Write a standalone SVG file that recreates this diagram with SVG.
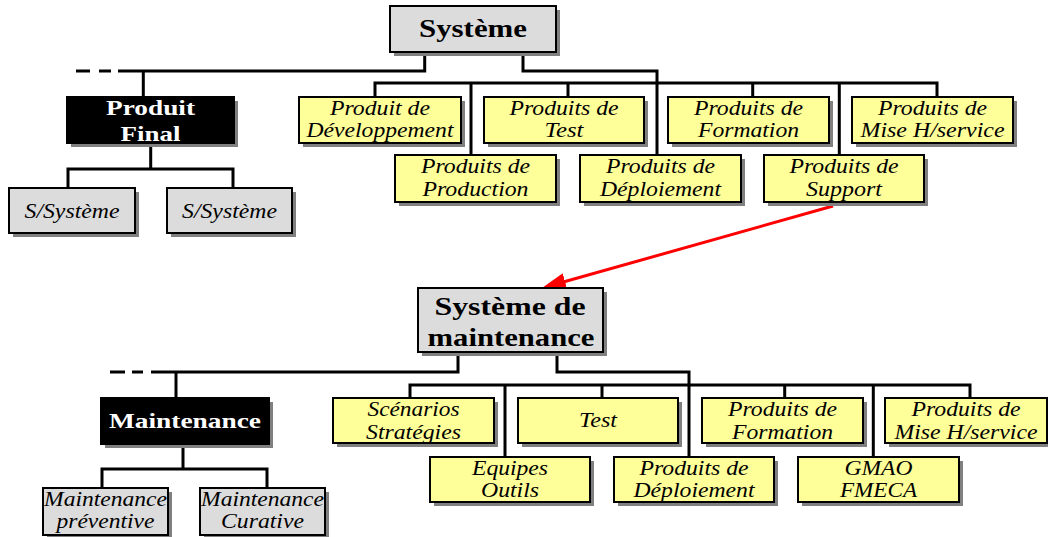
<svg xmlns="http://www.w3.org/2000/svg" width="1048" height="537" viewBox="0 0 1048 537">
  <style>
    .shadow { fill: #808080; }
    .box { stroke: #000; stroke-width: 2; }
    .yellow { fill: #ffff99; }
    .grey { fill: #dcdcdc; }
    .black { fill: #000; }
    .lbl { font-family: 'Liberation Serif', 'Times New Roman', serif; font-style: italic; font-size: 20px; fill: #000; text-anchor: middle; }
    .big { font-size: 21px; }
    .head { font-family: 'Liberation Serif', 'Times New Roman', serif; font-weight: bold; font-size: 25px; fill: #000; text-anchor: middle; }
    .inv { font-family: 'Liberation Serif', 'Times New Roman', serif; font-weight: bold; font-size: 22px; fill: #fff; text-anchor: middle; }
    .conn { fill: none; stroke: #000; stroke-width: 3; stroke-linejoin: miter; }
    .link { stroke: #ff0000; stroke-width: 3; fill: none; }
  </style>
  <defs>
    <marker id="redHead" markerUnits="userSpaceOnUse" markerWidth="24" markerHeight="17" refX="12" refY="8.5" orient="auto">
      <path d="M0,0 L24,8.5 L0,17 z" fill="#ff0000"/>
    </marker>
  </defs>

  <rect width="1048" height="537" fill="#fff"/>

  <!-- tree connectors -->
  <g id="connectors">
    <!-- upper tree -->
    <path class="conn" d="M424.7,52 V71 H118"/>
    <path class="conn" d="M76,71 H90 M99,71 H111"/>
    <path class="conn" d="M143.3,71 V97"/>
    <path class="conn" d="M150.7,143 V169 M68,188 V169 H233 V188"/>
    <path class="conn" d="M375,97 V83 H937 V97 M568,83 V97 M752.7,83 V97 M471,83 V155 M839.3,83 V155"/>
    <path class="conn" d="M523,52 V71 H657 V155"/>
    <!-- lower tree -->
    <path class="conn" d="M458,352 V372 H151"/>
    <path class="conn" d="M110,372 H125 M132,372 H143"/>
    <path class="conn" d="M176,372 V398"/>
    <path class="conn" d="M183,444 V469 M102,488 V469 H267 V488"/>
    <path class="conn" d="M410,398 V385 H970 V398 M602,385 V398 M784.7,385 V398 M505,385 V457 M873.3,385 V457"/>
    <path class="conn" d="M557,352 V372 H689 V457"/>
    <!-- link from support products to the maintenance system -->
    <line class="link" x1="833" y1="206" x2="553.5" y2="284.8" marker-end="url(#redHead)"/>
  </g>

  <!-- upper tree nodes -->
  <g id="systeme">
    <rect class="shadow" x="394" y="10" width="166" height="46"/>
    <rect class="box grey" x="390" y="6" width="166" height="46"/>
    <text class="head" x="473" y="37" textLength="108" lengthAdjust="spacingAndGlyphs">Système</text>
  </g>
  <g id="produit-final">
    <rect class="shadow" x="71" y="101" width="167" height="46"/>
    <rect class="box black" x="67" y="97" width="167" height="46"/>
    <text class="inv" x="150.5" y="115" textLength="89" lengthAdjust="spacingAndGlyphs">Produit</text>
    <text class="inv" x="150.5" y="141" textLength="60" lengthAdjust="spacingAndGlyphs">Final</text>
  </g>
  <g id="s-systeme-1">
    <rect class="shadow" x="13" y="192" width="126" height="45"/>
    <rect class="box grey" x="9" y="188" width="126" height="45"/>
    <text class="lbl big" x="72" y="218" textLength="95" lengthAdjust="spacingAndGlyphs">S/Système</text>
  </g>
  <g id="s-systeme-2">
    <rect class="shadow" x="171" y="192" width="125" height="45"/>
    <rect class="box grey" x="167" y="188" width="125" height="45"/>
    <text class="lbl big" x="229.5" y="218" textLength="95" lengthAdjust="spacingAndGlyphs">S/Système</text>
  </g>
  <g id="produit-developpement">
    <rect class="shadow" x="303" y="101" width="162" height="46"/>
    <rect class="box yellow" x="299" y="97" width="162" height="46"/>
    <text class="lbl" x="380" y="115" textLength="100" lengthAdjust="spacingAndGlyphs">Produit de</text>
    <text class="lbl" x="380" y="137" textLength="147" lengthAdjust="spacingAndGlyphs">Développement</text>
  </g>
  <g id="produits-test">
    <rect class="shadow" x="488" y="101" width="160" height="46"/>
    <rect class="box yellow" x="484" y="97" width="160" height="46"/>
    <text class="lbl" x="564" y="115" textLength="109" lengthAdjust="spacingAndGlyphs">Produits de</text>
    <text class="lbl" x="564" y="137" textLength="39" lengthAdjust="spacingAndGlyphs">Test</text>
  </g>
  <g id="produits-formation">
    <rect class="shadow" x="672" y="101" width="161" height="46"/>
    <rect class="box yellow" x="668" y="97" width="161" height="46"/>
    <text class="lbl" x="748.5" y="115" textLength="109" lengthAdjust="spacingAndGlyphs">Produits de</text>
    <text class="lbl" x="748.5" y="137" textLength="101" lengthAdjust="spacingAndGlyphs">Formation</text>
  </g>
  <g id="produits-mise-service">
    <rect class="shadow" x="856" y="101" width="161" height="46"/>
    <rect class="box yellow" x="852" y="97" width="161" height="46"/>
    <text class="lbl" x="932.5" y="115" textLength="109" lengthAdjust="spacingAndGlyphs">Produits de</text>
    <text class="lbl" x="932.5" y="137" textLength="144" lengthAdjust="spacingAndGlyphs">Mise H/service</text>
  </g>
  <g id="produits-production">
    <rect class="shadow" x="399" y="159" width="161" height="47"/>
    <rect class="box yellow" x="395" y="155" width="161" height="47"/>
    <text class="lbl" x="475.5" y="173" textLength="109" lengthAdjust="spacingAndGlyphs">Produits de</text>
    <text class="lbl" x="475.5" y="196" textLength="106" lengthAdjust="spacingAndGlyphs">Production</text>
  </g>
  <g id="produits-deploiement">
    <rect class="shadow" x="584" y="159" width="161" height="47"/>
    <rect class="box yellow" x="580" y="155" width="161" height="47"/>
    <text class="lbl" x="660.5" y="173" textLength="109" lengthAdjust="spacingAndGlyphs">Produits de</text>
    <text class="lbl" x="660.5" y="196" textLength="121" lengthAdjust="spacingAndGlyphs">Déploiement</text>
  </g>
  <g id="produits-support">
    <rect class="shadow" x="768" y="159" width="160" height="47"/>
    <rect class="box yellow" x="764" y="155" width="160" height="47"/>
    <text class="lbl" x="844" y="173" textLength="109" lengthAdjust="spacingAndGlyphs">Produits de</text>
    <text class="lbl" x="844" y="196" textLength="76" lengthAdjust="spacingAndGlyphs">Support</text>
  </g>

  <!-- lower tree nodes -->
  <g id="systeme-maintenance">
    <rect class="shadow" x="422" y="292" width="185" height="64"/>
    <rect class="box grey" x="418" y="288" width="185" height="64"/>
    <text class="head" x="510" y="315" textLength="151" lengthAdjust="spacingAndGlyphs">Système de</text>
    <text class="head" x="511" y="346" textLength="167" lengthAdjust="spacingAndGlyphs">maintenance</text>
  </g>
  <g id="maintenance">
    <rect class="shadow" x="105" y="402" width="168" height="46"/>
    <rect class="box black" x="101" y="398" width="168" height="46"/>
    <text class="inv" x="185" y="428" textLength="152" lengthAdjust="spacingAndGlyphs">Maintenance</text>
  </g>
  <g id="maintenance-preventive">
    <rect class="shadow" x="47" y="492" width="125" height="47"/>
    <rect class="box grey" x="43" y="488" width="125" height="47"/>
    <text class="lbl" x="105.5" y="506" textLength="123" lengthAdjust="spacingAndGlyphs">Maintenance</text>
    <text class="lbl" x="105.5" y="528" textLength="98" lengthAdjust="spacingAndGlyphs">préventive</text>
  </g>
  <g id="maintenance-curative">
    <rect class="shadow" x="204" y="492" width="125" height="47"/>
    <rect class="box grey" x="200" y="488" width="125" height="47"/>
    <text class="lbl" x="262.5" y="506" textLength="123" lengthAdjust="spacingAndGlyphs">Maintenance</text>
    <text class="lbl" x="262.5" y="528" textLength="83" lengthAdjust="spacingAndGlyphs">Curative</text>
  </g>
  <g id="scenarios-strategies">
    <rect class="shadow" x="337" y="402" width="161" height="45"/>
    <rect class="box yellow" x="333" y="398" width="161" height="45"/>
    <text class="lbl" x="413.5" y="416" textLength="92" lengthAdjust="spacingAndGlyphs">Scénarios</text>
    <text class="lbl" x="413.5" y="439" textLength="95" lengthAdjust="spacingAndGlyphs">Stratégies</text>
  </g>
  <g id="test">
    <rect class="shadow" x="522" y="402" width="160" height="45"/>
    <rect class="box yellow" x="518" y="398" width="160" height="45"/>
    <text class="lbl" x="598" y="427" textLength="38" lengthAdjust="spacingAndGlyphs">Test</text>
  </g>
  <g id="produits-formation-maint">
    <rect class="shadow" x="706" y="402" width="161" height="45"/>
    <rect class="box yellow" x="702" y="398" width="161" height="45"/>
    <text class="lbl" x="782.5" y="416" textLength="109" lengthAdjust="spacingAndGlyphs">Produits de</text>
    <text class="lbl" x="782.5" y="439" textLength="101" lengthAdjust="spacingAndGlyphs">Formation</text>
  </g>
  <g id="produits-mise-service-maint">
    <rect class="shadow" x="889" y="402" width="162" height="45"/>
    <rect class="box yellow" x="885" y="398" width="162" height="45"/>
    <text class="lbl" x="966" y="416" textLength="109" lengthAdjust="spacingAndGlyphs">Produits de</text>
    <text class="lbl" x="966" y="439" textLength="143" lengthAdjust="spacingAndGlyphs">Mise H/service</text>
  </g>
  <g id="equipes-outils">
    <rect class="shadow" x="434" y="461" width="160" height="45"/>
    <rect class="box yellow" x="430" y="457" width="160" height="45"/>
    <text class="lbl" x="510" y="475" textLength="76" lengthAdjust="spacingAndGlyphs">Equipes</text>
    <text class="lbl" x="510" y="497" textLength="58" lengthAdjust="spacingAndGlyphs">Outils</text>
  </g>
  <g id="produits-deploiement-maint">
    <rect class="shadow" x="618" y="461" width="160" height="45"/>
    <rect class="box yellow" x="614" y="457" width="160" height="45"/>
    <text class="lbl" x="694" y="475" textLength="109" lengthAdjust="spacingAndGlyphs">Produits de</text>
    <text class="lbl" x="694" y="497" textLength="121" lengthAdjust="spacingAndGlyphs">Déploiement</text>
  </g>
  <g id="gmao-fmeca">
    <rect class="shadow" x="802" y="461" width="161" height="45"/>
    <rect class="box yellow" x="798" y="457" width="161" height="45"/>
    <text class="lbl" x="878.5" y="475" textLength="68" lengthAdjust="spacingAndGlyphs">GMAO</text>
    <text class="lbl" x="878.5" y="497" textLength="77" lengthAdjust="spacingAndGlyphs">FMECA</text>
  </g>
</svg>
